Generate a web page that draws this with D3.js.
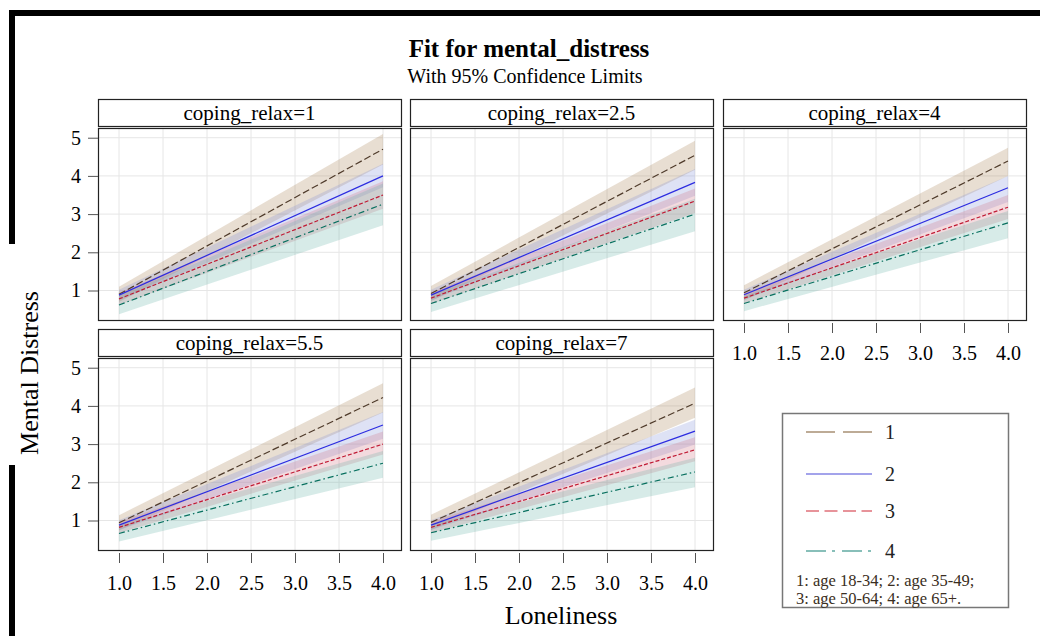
<!DOCTYPE html>
<html>
<head>
<meta charset="utf-8">
<script src="https://cdn.jsdelivr.net/npm/d3@7"></script>
<style>
  body { margin: 0; background: #fff; }
  svg text { font-family: "Liberation Serif", "Times New Roman", serif; }
</style>
</head>
<body>
<div id="chart"></div>
<script>
// panels (coping_relax levels) and age groups
const relaxLevels = ["1", "2.5", "4", "5.5", "7"];
const ageGroups = ["1", "2", "3", "4"];
const xTicks = [1.0, 1.5, 2.0, 2.5, 3.0, 3.5, 4.0];
const yTicks = [1, 2, 3, 4, 5];

// predicted mental distress at loneliness = 1 (rows = panel, cols = age group)
const fitAt1 = [
  [0.90, 0.88, 0.78, 0.62],
  [0.92, 0.88, 0.80, 0.66],
  [0.94, 0.89, 0.80, 0.66],
  [0.94, 0.88, 0.82, 0.66],
  [0.95, 0.88, 0.82, 0.68]
];
const lowerAt1 = [
  [0.70, 0.74, 0.62, 0.38],
  [0.72, 0.74, 0.65, 0.44],
  [0.74, 0.76, 0.66, 0.46],
  [0.74, 0.75, 0.67, 0.45],
  [0.75, 0.75, 0.67, 0.47]
];
const upperAt1 = [
  [1.10, 1.02, 0.94, 0.86],
  [1.12, 1.02, 0.95, 0.88],
  [1.14, 1.02, 0.94, 0.86],
  [1.14, 1.01, 0.97, 0.87],
  [1.15, 1.01, 0.97, 0.89]
];
// predicted mental distress at loneliness = 4
const fitAt4 = [
  [4.70, 4.00, 3.50, 3.26],
  [4.54, 3.83, 3.34, 3.00],
  [4.39, 3.69, 3.18, 2.77],
  [4.22, 3.50, 3.00, 2.50],
  [4.07, 3.34, 2.85, 2.27]
];
const lowerAt4 = [
  [4.30, 3.70, 3.14, 2.71],
  [4.16, 3.48, 3.03, 2.55],
  [4.00, 3.32, 2.87, 2.37],
  [3.83, 3.14, 2.73, 2.12],
  [3.69, 2.99, 2.55, 1.87]
];
const upperAt4 = [
  [5.10, 4.32, 3.86, 3.80],
  [4.92, 4.18, 3.67, 3.40],
  [4.74, 4.00, 3.50, 3.08],
  [4.59, 3.84, 3.33, 2.82],
  [4.48, 3.64, 3.18, 2.64]
];
const footnote = ["1: age 18-34; 2: age 35-49;", "3: age 50-64; 4: age 65+."];

const lineColors = ["#4e3a2a", "#2c2ce0", "#c01a34", "#08705f"];
const bandColors = ["#a37b4b", "#7b8bd7", "#cf6b7b", "#5fafa3"];
const legendColors = ["#a89074", "#8484e4", "#e0707a", "#62aaa2"];
const plotDash = ["7,3", null, "4,2", "6,3,1.5,3"];
const legendDash = ["29,8", null, "13,5.5", "20,6,3,7"];

const width = 1040, height = 636;
const svg = d3.select("#chart").append("svg")
  .attr("width", width).attr("height", height);

// outer frame fragments
svg.append("rect").attr("x", 9).attr("y", 10).attr("width", 1031).attr("height", 6).attr("fill", "#000");
svg.append("rect").attr("x", 9).attr("y", 10).attr("width", 6).attr("height", 234).attr("fill", "#000");
svg.append("rect").attr("x", 9).attr("y", 465).attr("width", 6).attr("height", 171).attr("fill", "#000");

svg.append("text").attr("x", 529).attr("y", 57).attr("text-anchor", "middle")
  .style("font-size", "25px").style("font-weight", "bold").text("Fit for mental_distress");
svg.append("text").attr("x", 525).attr("y", 83).attr("text-anchor", "middle")
  .style("font-size", "20px").text("With 95% Confidence Limits");

const colLeft = [98, 410, 723];
const rowTop = [99, 329];
const panelW = 303, headH = 28, plotH = 192;

relaxLevels.forEach(function(level, p) {
  let r = Math.floor(p / 3), c = p % 3;
  let left = colLeft[c], top = rowTop[r];
  let pTop = top + headH + 1, pBottom = pTop + plotH;

  let x = d3.scaleLinear().domain([1, 4]).range([left + 21, left + 285]);
  let y = d3.scaleLinear().domain([0.228, 5.254]).range([pBottom, pTop]);

  let g = svg.append("g").attr("class", "panel");

  // header strip
  g.append("rect").attr("x", left + 0.5).attr("y", top + 0.5)
    .attr("width", panelW).attr("height", headH - 1)
    .attr("fill", "#fff").attr("stroke", "#222").attr("stroke-width", 1.2);
  g.append("text").attr("x", left + panelW / 2).attr("y", top + 21)
    .attr("text-anchor", "middle").style("font-size", "21px")
    .text("coping_relax=" + level);

  // grid
  g.selectAll(".vg").data(xTicks).enter().append("line")
    .attr("x1", d => x(d)).attr("x2", d => x(d))
    .attr("y1", pTop).attr("y2", pBottom)
    .attr("stroke", "#e6e6e6").attr("stroke-width", 1);
  g.selectAll(".hg").data(yTicks).enter().append("line")
    .attr("x1", left).attr("x2", left + panelW)
    .attr("y1", d => y(d)).attr("y2", d => y(d))
    .attr("stroke", "#e6e6e6").attr("stroke-width", 1);

  let rows = ageGroups.map(function(a, i) {
    return [
      { lon: 1, fit: fitAt1[p][i], lo: lowerAt1[p][i], hi: upperAt1[p][i] },
      { lon: 4, fit: fitAt4[p][i], lo: lowerAt4[p][i], hi: upperAt4[p][i] }
    ];
  });

  let band = d3.area().x(d => x(d.lon)).y0(d => y(d.lo)).y1(d => y(d.hi));
  let fitLine = d3.line().x(d => x(d.lon)).y(d => y(d.fit));

  g.selectAll(".band").data(rows).enter().append("path")
    .attr("d", band).attr("fill", (d, i) => bandColors[i]).attr("fill-opacity", 0.25);
  g.selectAll(".fit").data(rows).enter().append("path")
    .attr("d", fitLine).attr("fill", "none")
    .attr("stroke", (d, i) => lineColors[i]).attr("stroke-width", 1.2)
    .attr("stroke-dasharray", (d, i) => plotDash[i]);

  // plot frame
  g.append("rect").attr("x", left + 0.5).attr("y", pTop + 0.5)
    .attr("width", panelW).attr("height", plotH)
    .attr("fill", "none").attr("stroke", "#222").attr("stroke-width", 1.2);

  if (c == 0) {
    let ya = g.append("g").attr("transform", "translate(" + left + ",0)")
      .call(d3.axisLeft(y).tickValues(yTicks).tickFormat(d3.format("d"))
        .tickSize(10).tickPadding(7));
    ya.select(".domain").remove();
    ya.selectAll("line").attr("stroke", "#555");
    ya.selectAll("text").style("font-size", "20px").attr("fill", "#000")
      .style("font-family", "'Liberation Serif', serif");
  }
  if (p >= 2) {
    let xa = g.append("g").attr("transform", "translate(0," + (pBottom + 3) + ")")
      .call(d3.axisBottom(x).tickValues(xTicks).tickFormat(d3.format(".1f"))
        .tickSize(10).tickPadding(13));
    xa.select(".domain").remove();
    xa.selectAll("line").attr("stroke", "#555");
    xa.selectAll("text").style("font-size", "20px").attr("fill", "#000")
      .style("font-family", "'Liberation Serif', serif");
  }
});

// axis titles
svg.append("text").attr("transform", "translate(38,373) rotate(-90)")
  .attr("text-anchor", "middle").style("font-size", "26px").text("Mental Distress");
svg.append("text").attr("x", 561).attr("y", 624)
  .attr("text-anchor", "middle").style("font-size", "26px").text("Loneliness");

// legend
let lg = svg.append("g");
lg.append("rect").attr("x", 782.5).attr("y", 413.5).attr("width", 226).attr("height", 194)
  .attr("fill", "#fff").attr("stroke", "#777").attr("stroke-width", 1.5);
const legendY = [432, 474, 511, 551];
ageGroups.forEach(function(a, i) {
  lg.append("line").attr("x1", 806).attr("x2", 872)
    .attr("y1", legendY[i]).attr("y2", legendY[i])
    .attr("stroke", legendColors[i]).attr("stroke-width", 1.6)
    .attr("stroke-dasharray", legendDash[i]);
  lg.append("text").attr("x", 885).attr("y", legendY[i] + 7)
    .style("font-size", "20px").attr("fill", "#222").text(a);
});
footnote.forEach(function(t, i) {
  lg.append("text").attr("x", 796).attr("y", 586 + i * 18)
    .style("font-size", "16.5px").attr("fill", "#3a2e22").text(t);
});
</script>
</body>
</html>
